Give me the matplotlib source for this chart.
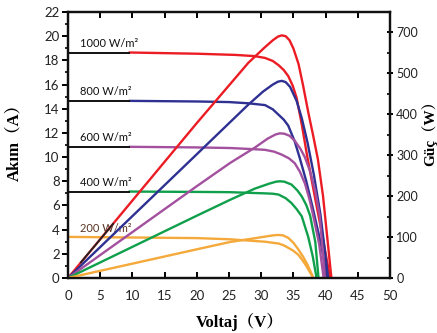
import matplotlib
matplotlib.use('Agg')
import matplotlib.pyplot as plt
from matplotlib.ticker import MultipleLocator, FixedLocator

# irradiance levels (W/m2) and the short-circuit current drawn as a black stub
levels = ['1000 W/m²', '800 W/m²', '600 W/m²', '400 W/m²', '200 W/m²']
colors = ['#ec1c24', '#2e3192', '#a3509f', '#10a04c', '#f4a93a']
isc = [18.65, 14.65, 10.85, 7.15, 3.4]

# I-V curves (current, A) - coloured part
v_iv_1000 = [9.5, 20, 26, 29, 30.6, 31.8, 32.7, 33.5, 34.2, 34.9, 35.5, 36.3, 37.1, 38.3, 39.5, 40.7]
i_iv_1000 = [18.65, 18.55, 18.45, 18.35, 18.2, 17.95, 17.6, 17.2, 16.7, 15.9, 14.9, 12.7, 10.2, 6.8, 3.5, 0]
v_iv_800 = [9.5, 20, 25, 28, 30.6, 31.8, 32.7, 33.5, 34.2, 35.2, 36, 37, 38, 39.2, 40.3]
i_iv_800 = [14.65, 14.6, 14.55, 14.45, 14.3, 13.95, 13.5, 13.1, 12.6, 11.3, 9.9, 8.0, 5.8, 3.0, 0]
v_iv_600 = [9.5, 20, 25.2, 29, 30.6, 32, 33.2, 34.3, 35.2, 36, 36.8, 37.5, 38.1, 39, 39.7]
i_iv_600 = [10.85, 10.8, 10.75, 10.65, 10.6, 10.45, 10.2, 9.9, 9.5, 8.8, 7.8, 6.5, 5.1, 2.8, 0]
v_iv_400 = [9.5, 20, 25, 30.6, 31.8, 32.7, 33.8, 34.7, 35.5, 36.3, 37.3, 38, 38.6]
i_iv_400 = [7.15, 7.12, 7.1, 7.0, 6.97, 6.9, 6.6, 6.2, 5.7, 5.1, 3.4, 1.8, 0]
v_iv_200 = [0, 10, 20, 25.2, 30.6, 32.7, 33.5, 34.2, 35, 35.8, 36.5, 37, 38.1]
i_iv_200 = [3.4, 3.35, 3.3, 3.2, 3.0, 2.85, 2.7, 2.5, 2.25, 1.9, 1.4, 1.0, 0]

# P-V curves (power, W)
v_p_1000 = [0, 10, 20, 28, 30.5, 31.8, 32.6, 33.2, 33.8, 34.4, 35, 35.8, 36.5, 37.3, 38.1, 38.8, 39.6, 40.9]
p_1000 = [0, 189, 378, 525, 562, 580, 589, 592, 590, 580, 560, 522, 470, 405, 345, 290, 200, 0]
v_p_800 = [0, 10, 20, 28, 30.3, 31.8, 32.6, 33.2, 33.8, 34.5, 35.5, 36.3, 37.2, 38.2, 39.2, 40.4]
p_800 = [0, 151, 302, 423, 455, 472, 479, 481, 478, 466, 432, 390, 330, 250, 155, 0]
v_p_600 = [0, 10, 20, 25.2, 29, 31, 32.2, 32.9, 33.6, 34.4, 35.2, 36.1, 36.8, 37.6, 38.4, 39.1, 39.9]
p_600 = [0, 112, 224, 281, 318, 340, 350, 353, 352, 347, 335, 315, 294, 260, 212, 150, 0]
v_p_400 = [0, 10, 20, 25.2, 29, 31.2, 32.3, 32.9, 33.6, 34.7, 35.6, 36.3, 37, 37.6, 38.4, 38.9]
p_400 = [0, 76, 152, 191, 218, 230, 235, 236, 235, 228, 214, 199, 178, 152, 88, 0]
v_p_200 = [0, 10, 20, 25.2, 29, 31, 32.1, 32.7, 33.4, 34.2, 35, 35.8, 36.5, 37.2, 38.1]
p_200 = [0, 35, 70, 88, 97, 102, 104.5, 105, 104, 98, 86, 69, 52, 32, 0]

iv_curves = [(v_iv_1000, i_iv_1000), (v_iv_800, i_iv_800), (v_iv_600, i_iv_600),
             (v_iv_400, i_iv_400), (v_iv_200, i_iv_200)]
pv_curves = [(v_p_1000, p_1000), (v_p_800, p_800), (v_p_600, p_600),
             (v_p_400, p_400), (v_p_200, p_200)]

stub_end = 9.5
right_ticks = [0, 100, 200, 300, 400, 500, 600]
right_labels = ['0', '100', '200', '300', '400', '500', '700']

tick_font = ['Liberation Sans Narrow', 'Lato', 'DejaVu Sans']
label_font = ['Liberation Serif', 'Noto Serif CJK SC', 'Noto Sans CJK SC']

fig = plt.figure(figsize=(4.37, 3.33), dpi=100)
ax = fig.add_axes([68 / 437, 55 / 333, 322 / 437, 266 / 333])
ax2 = ax.twinx()

lw = 1.7
for k in range(5):
    v, cur = iv_curves[k]
    ax.plot(v, cur, color=colors[k], lw=lw, solid_capstyle='round', solid_joinstyle='round')
    vp, p = pv_curves[k]
    ax2.plot(vp, p, color=colors[k], lw=lw, solid_capstyle='round', solid_joinstyle='round')
    if k < 4:
        ax.plot([0, stub_end], [isc[k], isc[k]], color='#111111', lw=1.4)
        ax.text(1.9, isc[k] + 0.3, levels[k], fontsize=8, family=tick_font,
                va='bottom', ha='left', color='#111111')
    else:
        ax.text(1.9, isc[k] + 0.25, levels[k], fontsize=8, family=tick_font,
                va='bottom', ha='left', color='#5a3524', zorder=1)

# dark stretch seen on the red power line near the origin
ax2.plot([2, 7], [38, 132], color='#222222', lw=1.3)

ax.set_xlim(0, 50)
ax.set_ylim(0, 22)
ax2.set_ylim(0, 649)

ax.xaxis.set_major_locator(MultipleLocator(5))
ax.yaxis.set_major_locator(MultipleLocator(2))
ax.yaxis.set_minor_locator(MultipleLocator(1))
ax.tick_params(axis='x', which='both', direction='in', top=True, length=4, width=1.4, pad=9)
ax.tick_params(axis='y', which='major', direction='out', length=4, width=1.4, pad=2)
ax.tick_params(axis='y', which='minor', direction='out', length=2.5, width=1.2)

ax2.yaxis.set_major_locator(FixedLocator(right_ticks))
ax2.set_yticklabels(right_labels)
ax2.yaxis.set_minor_locator(MultipleLocator(50))
ax2.tick_params(axis='y', which='major', direction='inout', length=5, width=1.4, pad=2)
ax2.tick_params(axis='y', which='minor', direction='in', length=2.5, width=1.2)

for a in (ax, ax2):
    for s in a.spines.values():
        s.set_linewidth(1.6)
        s.set_color('#111111')
    for lab in a.get_xticklabels() + a.get_yticklabels():
        lab.set_family(tick_font)
        lab.set_fontsize(9.5)
        lab.set_color('#222222')
for lab in ax2.get_yticklabels():
    lab.set_fontsize(9)

fig.text(240 / 437, 1 - 322 / 333, 'Voltaj（V）', family=label_font, fontweight='bold',
         fontsize=12, ha='center', va='center')
fig.text(14 / 437, 1 - 138 / 333, 'Akım（A）', family=label_font, fontweight='bold',
         fontsize=12, ha='center', va='center', rotation=90)
fig.text(429 / 437, 1 - 130 / 333, 'Güç（W）', family=label_font, fontweight='bold',
         fontsize=11, ha='center', va='center', rotation=90)

fig.savefig('out.png', dpi=100)
